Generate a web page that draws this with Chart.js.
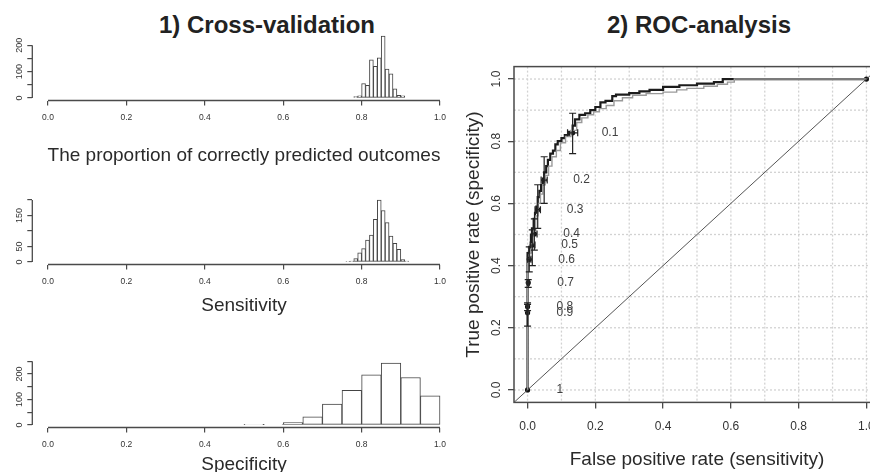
<!DOCTYPE html>
<html><head><meta charset="utf-8">
<script src="https://cdn.jsdelivr.net/npm/chart.js@4.4.1/dist/chart.umd.min.js"></script>
<style>
html,body{margin:0;padding:0;background:#fff;overflow:hidden;width:870px;height:472px;position:relative;}
canvas{position:absolute;}
.t{position:absolute;font-family:"Liberation Sans",Arial,sans-serif;font-weight:bold;font-size:24px;line-height:24px;color:#222;white-space:nowrap;transform:translate(-50%,-50%);}
</style></head><body>
<div class="t" style="left:267px;top:25px">1) Cross-validation</div>
<div class="t" style="left:699px;top:25px">2) ROC-analysis</div>
<canvas id="h1" width="470" height="175" style="left:0;top:0;width:470px;height:175px"></canvas>
<canvas id="h2" width="470" height="160" style="left:0;top:164px;width:470px;height:160px"></canvas>
<canvas id="h3" width="470" height="155" style="left:0;top:327px;width:470px;height:155px"></canvas>
<canvas id="roc" width="450" height="472" style="left:440px;top:0;width:450px;height:472px"></canvas>
<script>
// ---------------- data ----------------
const histXTicks = [0, 0.2, 0.4, 0.6, 0.8, 1.0];

const accuracyBreaks = [0.78, 0.79, 0.80, 0.81, 0.82, 0.83, 0.84, 0.85, 0.86, 0.87, 0.88, 0.89, 0.90, 0.91];
const accuracyCounts = [5, 8, 55, 48, 145, 120, 152, 235, 110, 92, 35, 10, 8];
const accuracyYTicks = [0, 50, 100, 150, 200];
const accuracyYLabels = [0, 100, 200];

const sensitivityBreaks = [0.76, 0.77, 0.78, 0.79, 0.80, 0.81, 0.82, 0.83, 0.84, 0.85, 0.86, 0.87, 0.88, 0.89, 0.90, 0.91, 0.92];
const sensitivityCounts = [2, 3, 11, 30, 43, 71, 87, 138, 200, 166, 127, 84, 60, 41, 8, 3];
const sensitivityYTicks = [0, 50, 100, 150, 200];
const sensitivityYLabels = [0, 50, 150];

const specificityBreaks = [0.50, 0.55, 0.60, 0.65, 0.70, 0.75, 0.80, 0.85, 0.90, 0.95, 1.00];
const specificityCounts = [1, 3, 10, 32, 82, 136, 197, 243, 186, 114];
const specificityYTicks = [0, 50, 100, 150, 200, 250];
const specificityYLabels = [0, 100, 200];

const rocTicks = [0, 0.2, 0.4, 0.6, 0.8, 1.0];
const rocGrid = [0, 0.1, 0.2, 0.3, 0.4, 0.5, 0.6, 0.7, 0.8, 0.9, 1.0];

const meanFpr = [0, 0, 0, 0.005, 0.010, 0.013, 0.018, 0.022, 0.026, 0.030, 0.035, 0.040, 0.045, 0.049, 0.055, 0.060, 0.067, 0.075, 0.082, 0.089, 0.100, 0.110, 0.122, 0.133, 0.140, 0.153, 0.170, 0.185, 0.200, 0.215, 0.230, 0.250, 0.261, 0.300, 0.330, 0.360, 0.400, 0.448, 0.500, 0.550, 0.576, 0.596, 1.0];
const meanTpr = [0, 0.25, 0.42, 0.44, 0.46, 0.50, 0.52, 0.55, 0.57, 0.59, 0.62, 0.64, 0.66, 0.68, 0.70, 0.72, 0.74, 0.76, 0.77, 0.79, 0.80, 0.81, 0.82, 0.83, 0.85, 0.87, 0.885, 0.89, 0.90, 0.91, 0.925, 0.93, 0.945, 0.95, 0.955, 0.96, 0.965, 0.975, 0.98, 0.985, 0.99, 1.0, 1.0];

const runFpr = [0, 0, 0.006, 0.011, 0.016, 0.024, 0.031, 0.038, 0.045, 0.052, 0.062, 0.072, 0.085, 0.097, 0.112, 0.128, 0.145, 0.160, 0.178, 0.195, 0.212, 0.232, 0.255, 0.280, 0.310, 0.350, 0.400, 0.440, 0.470, 0.520, 0.560, 0.590, 0.610, 1.0];
const runTpr = [0, 0.42, 0.44, 0.47, 0.51, 0.56, 0.60, 0.63, 0.66, 0.69, 0.72, 0.75, 0.77, 0.795, 0.815, 0.835, 0.86, 0.875, 0.885, 0.895, 0.905, 0.915, 0.93, 0.94, 0.948, 0.953, 0.958, 0.965, 0.97, 0.977, 0.983, 0.99, 1.0, 1.0];

const cutoffs      = [0.1, 0.2, 0.3, 0.4, 0.5, 0.6, 0.7, 0.8, 0.9, 1, 0];
const cutoffFpr    = [0.133, 0.049, 0.030, 0.020, 0.014, 0.005, 0.002, 0.0, 0.0, 0.0, 1.0];
const cutoffTpr    = [0.827, 0.675, 0.580, 0.502, 0.466, 0.420, 0.345, 0.268, 0.248, 0.0, 1.0];
const cutoffTprLow = [0.760, 0.600, 0.520, 0.450, 0.400, 0.380, 0.330, 0.255, 0.205, 0.0, 1.0];
const cutoffTprHigh= [0.890, 0.750, 0.660, 0.550, 0.515, 0.460, 0.355, 0.280, 0.275, 0.0, 1.0];
const cutoffFprLow = [0.118, 0.040, 0.022, 0.012, 0.008, 0.000, 0.000, 0.0, 0.0, 0.0, 1.0];
const cutoffFprHigh= [0.148, 0.058, 0.038, 0.028, 0.022, 0.010, 0.005, 0.0, 0.0, 0.0, 1.0];

// ---------------- helpers ----------------
const FONT = '"Liberation Sans", Arial, Helvetica, sans-serif';
Chart.defaults.font.family = FONT;
const AXIS = '#4a4a4a';
const TXT = '#333333';

function rStyle(cfg) {
  return {
    id: 'rStyle',
    beforeDatasetsDraw(chart) {
      if (!cfg.grid) return;
      const {ctx, chartArea: a, scales: {x, y}} = chart;
      ctx.save();
      ctx.strokeStyle = '#d2d2d2'; ctx.lineWidth = 1.3; ctx.setLineDash([2, 2]);
      cfg.grid.forEach(v => {
        const px = x.getPixelForValue(v), py = y.getPixelForValue(v);
        ctx.beginPath(); ctx.moveTo(px, a.top); ctx.lineTo(px, a.bottom); ctx.stroke();
        ctx.beginPath(); ctx.moveTo(a.left, py); ctx.lineTo(a.right, py); ctx.stroke();
      });
      ctx.restore();
    },
    afterDraw(chart) {
      const {ctx, chartArea: a, scales: {x, y}} = chart;
      ctx.save();
      ctx.strokeStyle = AXIS; ctx.lineWidth = cfg.lineWidth;
      if (cfg.box) {
        ctx.strokeRect(a.left, a.top, a.right - a.left, a.bottom - a.top);
      } else {
        const xt = cfg.xTicks, yt = cfg.yTicks;
        ctx.beginPath();
        ctx.moveTo(x.getPixelForValue(xt[0]), a.bottom); ctx.lineTo(x.getPixelForValue(xt[xt.length - 1]), a.bottom);
        ctx.moveTo(a.left, y.getPixelForValue(yt[0])); ctx.lineTo(a.left, y.getPixelForValue(yt[yt.length - 1]));
        ctx.stroke();
      }
      ctx.fillStyle = TXT; ctx.font = cfg.fontSize + 'px ' + FONT;
      ctx.textAlign = 'center'; ctx.textBaseline = 'middle';
      cfg.yLabels.forEach(v => {
        ctx.save();
        ctx.translate(a.left - cfg.labelOffset, y.getPixelForValue(v));
        ctx.rotate(-Math.PI / 2);
        ctx.fillText(cfg.format(v), 0, 0);
        ctx.restore();
      });
      ctx.restore();
    }
  };
}

function makeHist(id, breaks, counts, yTicks, yLabels, xlab, xlabPad) {
  const cv = document.getElementById(id);
  const H = cv.height;
  const ymax = Math.max(...counts);
  const pts = counts.map((c, i) => ({x: (breaks[i] + breaks[i + 1]) / 2, y: c}));
  return new Chart(cv, {
    type: 'bar',
    data: {datasets: [{data: pts, backgroundColor: '#ffffff', borderColor: '#444444', borderWidth: 1,
      borderSkipped: false, barPercentage: 1, categoryPercentage: 1}]},
    options: {
      responsive: false, animation: false, events: [],
      layout: {padding: {top: 33.5, left: 0, right: 14.3, bottom: 0}},
      plugins: {legend: {display: false}, tooltip: {enabled: false}},
      scales: {
        x: {type: 'linear', min: -0.04, max: 1.04, offset: false,
          afterBuildTicks: s => { s.ticks = histXTicks.map(v => ({value: v})); },
          afterFit: s => { s.height = H - 33.5 - 67; },
          ticks: {font: {size: 8.5}, color: TXT, padding: 7.2, maxRotation: 0, autoSkip: false, callback: v => v.toFixed(1)},
          grid: {display: true, drawOnChartArea: false, drawTicks: true, tickLength: 5, color: AXIS, lineWidth: 1.2, offset: false},
          border: {display: false},
          title: {display: true, text: xlab, color: '#2a2a2a', font: {size: 19}, padding: {top: 0, bottom: xlabPad}}
        },
        y: {type: 'linear', min: -0.04 * ymax, max: 1.04 * ymax,
          afterBuildTicks: s => { s.ticks = yTicks.map(v => ({value: v})); },
          afterFit: s => { s.width = 32.3; },
          ticks: {display: false},
          grid: {display: true, drawOnChartArea: false, drawTicks: true, tickLength: 5, color: AXIS, lineWidth: 1.2},
          border: {display: false}
        }
      }
    },
    plugins: [rStyle({xTicks: histXTicks, yTicks: yTicks, yLabels: yLabels, fontSize: 9, labelOffset: 12.8, lineWidth: 1.3, format: v => String(v)})]
  });
}

makeHist('h1', accuracyBreaks, accuracyCounts, accuracyYTicks, accuracyYLabels, 'The proportion of correctly predicted outcomes', 8.1);
makeHist('h2', sensitivityBreaks, sensitivityCounts, sensitivityYTicks, sensitivityYLabels, 'Sensitivity', 6.6);
makeHist('h3', specificityBreaks, specificityCounts, specificityYTicks, specificityYLabels, 'Specificity', 5.6);

// ---------------- ROC ----------------
const rocLo = rocTicks[0] - 0.04 * (rocTicks[rocTicks.length - 1] - rocTicks[0]);
const rocHi = rocTicks[rocTicks.length - 1] + 0.04 * (rocTicks[rocTicks.length - 1] - rocTicks[0]);

const cutoffPlugin = {
  id: 'cutoffs',
  afterDatasetsDraw(chart) {
    const {ctx, scales: {x, y}} = chart;
    ctx.save();
    ctx.strokeStyle = '#222'; ctx.lineWidth = 1.2;
    const cap = 3.5;
    cutoffs.forEach((c, i) => {
      const px = x.getPixelForValue(cutoffFpr[i]), py = y.getPixelForValue(cutoffTpr[i]);
      const yl = y.getPixelForValue(cutoffTprLow[i]), yh = y.getPixelForValue(cutoffTprHigh[i]);
      if (Math.abs(yl - yh) > 1) {
        ctx.beginPath();
        ctx.moveTo(px, yl); ctx.lineTo(px, yh);
        ctx.moveTo(px - cap, yl); ctx.lineTo(px + cap, yl);
        ctx.moveTo(px - cap, yh); ctx.lineTo(px + cap, yh);
        ctx.stroke();
      }
      const xl = x.getPixelForValue(cutoffFprLow[i]), xh = x.getPixelForValue(cutoffFprHigh[i]);
      if (Math.abs(xh - xl) > 1) {
        ctx.beginPath();
        ctx.moveTo(xl, py); ctx.lineTo(xh, py);
        ctx.moveTo(xl, py - cap); ctx.lineTo(xl, py + cap);
        ctx.moveTo(xh, py - cap); ctx.lineTo(xh, py + cap);
        ctx.stroke();
      }
    });
    ctx.fillStyle = '#404040'; ctx.font = '12px ' + FONT;
    ctx.textAlign = 'left'; ctx.textBaseline = 'middle';
    cutoffs.forEach((c, i) => {
      ctx.fillText(String(c), x.getPixelForValue(cutoffFpr[i]) + 29, y.getPixelForValue(cutoffTpr[i]));
    });
    ctx.restore();
  }
};

new Chart(document.getElementById('roc'), {
  type: 'line',
  data: {datasets: [
    {data: [{x: rocLo, y: rocLo}, {x: rocHi, y: rocHi}], borderColor: '#555', borderWidth: 1, pointRadius: 0},
    {data: runFpr.map((v, i) => ({x: v, y: runTpr[i]})), borderColor: '#9a9a9a', borderWidth: 1.4, pointRadius: 0, stepped: 'before'},
    {data: meanFpr.map((v, i) => ({x: v, y: meanTpr[i]})), borderColor: '#1c1c1c', borderWidth: 2.2, pointRadius: 0, stepped: 'after'},
    {data: cutoffFpr.map((v, i) => ({x: v, y: cutoffTpr[i]})), showLine: false, pointRadius: 2.6,
      pointBackgroundColor: '#111', pointBorderColor: '#111', pointBorderWidth: 0}
  ]},
  options: {
    responsive: false, animation: false, events: [],
    layout: {padding: {top: 66.6, left: 0, right: 10, bottom: 0}},
    plugins: {legend: {display: false}, tooltip: {enabled: false}},
    scales: {
      x: {type: 'linear', min: rocLo, max: rocHi,
        afterBuildTicks: s => { s.ticks = rocTicks.map(v => ({value: v})); },
        afterFit: s => { s.height = 472 - 402.4; },
        ticks: {font: {size: 12}, color: TXT, padding: 11.4, maxRotation: 0, autoSkip: false, callback: v => v.toFixed(1)},
        grid: {display: true, drawOnChartArea: false, drawTicks: true, tickLength: 6, color: AXIS, lineWidth: 1.3},
        border: {display: false},
        title: {display: true, text: 'False positive rate (sensitivity)', color: '#2a2a2a', font: {size: 19}, padding: {top: 0, bottom: 0.6}}
      },
      y: {type: 'linear', min: rocLo, max: rocHi,
        afterBuildTicks: s => { s.ticks = rocTicks.map(v => ({value: v})); },
        afterFit: s => { s.width = 74; },
        ticks: {display: false},
        grid: {display: true, drawOnChartArea: false, drawTicks: true, tickLength: 6, color: AXIS, lineWidth: 1.3},
        border: {display: false},
        title: {display: true, text: 'True positive rate (specificity)', color: '#2a2a2a', font: {size: 19}, padding: {top: 22.6, bottom: 0}}
      }
    }
  },
  plugins: [rStyle({grid: rocGrid, box: true, yLabels: rocTicks, fontSize: 12, labelOffset: 17, lineWidth: 1.5, format: v => v.toFixed(1)}), cutoffPlugin]
});
</script>
</body></html>
